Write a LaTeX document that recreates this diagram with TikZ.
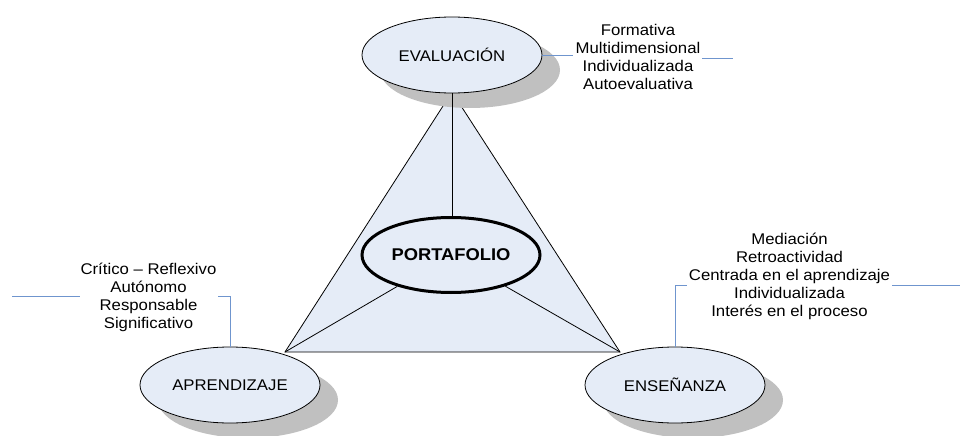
\documentclass[tikz,border=0pt]{standalone}
\usepackage{fontspec}
\setmainfont{Liberation Sans}[FakeStretch=1.08]
\usetikzlibrary{shapes.geometric,shadows}
\definecolor{ellfill}{HTML}{E5ECF7}
\definecolor{calloutblue}{HTML}{6F95CE}
\definecolor{shadowgray}{HTML}{C0C0C0}
\begin{document}
\begin{tikzpicture}[x=1pt,y=1pt,
  ell/.style={ellipse,draw=black,line width=0.8pt,fill=ellfill,minimum width=180pt,minimum height=76pt,inner sep=0pt,
    font=\fontsize{15.5}{18}\selectfont,
    drop shadow={shadow xshift=18pt,shadow yshift=-15pt,fill=shadowgray,opacity=1}},
  mainell/.style={ellipse,draw=black,line width=3pt,fill=ellfill,minimum width=178pt,minimum height=75pt,inner sep=0pt,
    font=\bfseries\fontsize{17}{20}\selectfont},
  attr/.style={align=center,inner sep=0pt,font=\fontsize{15.5}{18}\selectfont},
  tri/.style={draw=black,line width=0.8pt,fill=ellfill},
  link/.style={draw=black,line width=0.8pt},
  callout/.style={draw=calloutblue,line width=0.9pt}]
\useasboundingbox (0,0) rectangle (962,-436);
% triangle
\coordinate (apex) at (452,-92);
\coordinate (lv) at (285,-352);
\coordinate (rv) at (620,-352);
\path[tri] (apex) -- (lv) -- (rv) -- cycle;
% ellipses
\node[ell] (eva) at (452,-55) {EVALUACIÓN};
\node[ell] (apr) at (230,-385) {APRENDIZAJE};
\node[ell] (ens) at (675,-385) {ENSEÑANZA};
\node[mainell] (port) at (451,-255) {PORTAFOLIO};
% inner links
\draw[link] (eva.south) -- (eva.south |- port.north);
\draw[link] (port) -- (lv);
\draw[link] (port) -- (rv);
% attribute texts
\node[attr] (evatxt) at (638,-57) {Formativa\\Multidimensional\\Individualizada\\Autoevaluativa};
\node[attr] (aprtxt) at (148.5,-297) {Crítico – Reflexivo\\Autónomo\\Responsable\\Significativo};
\node[attr] (enstxt) at (789.5,-276) {Mediación\\Retroactividad\\Centrada en el aprendizaje\\Individualizada\\Interés en el proceso};
% callout lines
\coordinate (ev1) at (573,-55);
\coordinate (ev2) at (702,-58);
\coordinate (ev3) at (733,-58);
\draw[callout] (eva.east) -- (ev1);
\draw[callout] (ev2) -- (ev3);
\coordinate (ap1) at (12,-296);
\coordinate (ap2) at (80,-296);
\coordinate (ap3) at (218,-296);
\coordinate (ap4) at (230,-296);
\draw[callout] (ap1) -- (ap2);
\draw[callout] (ap3) -- (ap4) -- (apr.north);
\coordinate (en1) at (675,-285);
\coordinate (en2) at (687,-285);
\coordinate (en3) at (892,-285);
\coordinate (en4) at (960,-285);
\draw[callout] (ens.north) -- (en1) -- (en2);
\draw[callout] (en3) -- (en4);
\end{tikzpicture}
\end{document}
